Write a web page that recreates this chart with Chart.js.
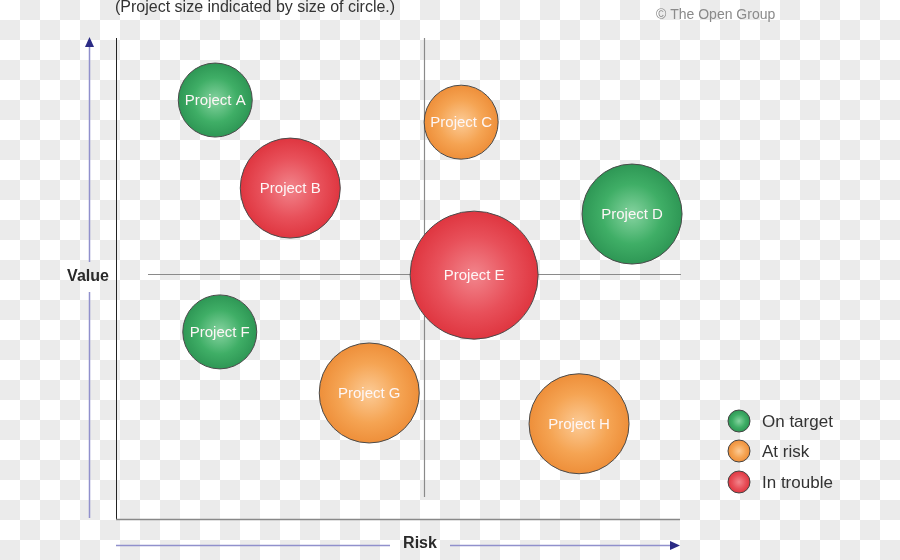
<!DOCTYPE html>
<html><head><meta charset="utf-8">
<script src="https://cdn.jsdelivr.net/npm/chart.js@4/dist/chart.umd.min.js"></script>
<style>
html,body{margin:0;padding:0;}
body{width:900px;height:560px;background-color:#fff;
background-image:conic-gradient(#ebebeb 0 25%,#fff 0 50%,#ebebeb 0 75%,#fff 0);background-size:40px 40px;}
#wrap{position:relative;width:900px;height:560px;}
</style></head>
<body><div id="wrap"><canvas id="c" width="900" height="560"></canvas></div>
<script>
const projects = ["Project A","Project B","Project C","Project D","Project E","Project F","Project G","Project H"];
const riskValues = [1.76, 3.09, 6.12, 9.15, 6.35, 1.84, 4.49, 8.21];
const valueValues = [8.71, 6.88, 8.25, 6.34, 5.07, 3.89, 2.62, 1.98];
const sizes = [37, 50, 37, 50, 64, 37, 50, 50];
const statuses = ["On target","In trouble","At risk","On target","In trouble","On target","At risk","At risk"];
const statusNames = ["On target","At risk","In trouble"];
const quadrantRisk = 5.46;
const quadrantValue = 5.09;

const palette = {
  "On target": {c0:"#86d3a0", c1:"#3fae66", c2:"#2e9755"},
  "At risk":   {c0:"#fccb96", c1:"#f5a453", c2:"#ee8f3a"},
  "In trouble":{c0:"#f2858c", c1:"#e8505a", c2:"#df3640"}
};
function grad(ctx2d, x, y, r, name){
  const p = palette[name];
  const g = ctx2d.createRadialGradient(x, y, 0, x, y, r);
  g.addColorStop(0, p.c0); g.addColorStop(0.6, p.c1); g.addColorStop(1, p.c2);
  return g;
}

const datasets = statusNames.map(s => ({
  label: s,
  data: projects.map((p,i)=>({x:riskValues[i], y:valueValues[i], r:sizes[i], name:p, status:statuses[i]})).filter(d=>d.status===s),
  borderColor: "#4a4a4a",
  borderWidth: 1,
  clip: false,
  backgroundColor: function(ctx){
    const chart = ctx.chart;
    const sx = chart.scales.x, sy = chart.scales.y;
    if(!sx || !sy || !ctx.raw) return palette[s].c1;
    const px = sx.getPixelForValue(ctx.raw.x), py = sy.getPixelForValue(ctx.raw.y);
    if(!isFinite(px) || !isFinite(py)) return palette[s].c1;
    return grad(chart.ctx, px, py, ctx.raw.r, s);
  }
}));

const decor = {
  id: "decor",
  beforeDatasetsDraw(chart){
    const c = chart.ctx, a = chart.chartArea, sx = chart.scales.x, sy = chart.scales.y;
    c.save();
    c.strokeStyle = "#8a8a8a"; c.lineWidth = 1.2;
    const qx = Math.round(sx.getPixelForValue(quadrantRisk))+0.5;
    const qy = Math.round(sy.getPixelForValue(quadrantValue))+0.5;
    c.beginPath(); c.moveTo(qx, a.top); c.lineTo(qx, a.bottom-22); c.stroke();
    c.beginPath(); c.moveTo(a.left+32, qy); c.lineTo(a.right+1, qy); c.stroke();
    c.strokeStyle = "#222"; c.lineWidth = 1;
    c.beginPath(); c.moveTo(a.left+0.5, a.top); c.lineTo(a.left+0.5, a.bottom); c.stroke();
    c.strokeStyle = "#888"; c.lineWidth = 1.5;
    c.beginPath(); c.moveTo(a.left, a.bottom+0.5); c.lineTo(a.right, a.bottom+0.5); c.stroke();
    c.restore();
  },
  afterDatasetsDraw(chart){
    const c = chart.ctx, a = chart.chartArea;
    c.save();
    c.fillStyle = "#fdf6f6"; c.font = "15px 'Liberation Sans', Arial, sans-serif";
    c.textAlign = "center"; c.textBaseline = "middle";
    chart.data.datasets.forEach((ds, di) => {
      const meta = chart.getDatasetMeta(di);
      meta.data.forEach((el, j) => { c.fillText(ds.data[j].name, el.x, el.y + 1); });
    });
    const arrowLine = "#9090cc", arrowHead = "#2b2b85";
    c.strokeStyle = arrowLine; c.lineWidth = 1.5;
    const ax = 89.5;
    c.beginPath(); c.moveTo(ax, a.bottom-1); c.lineTo(ax, 292); c.moveTo(ax, 262); c.lineTo(ax, a.top+6); c.stroke();
    c.fillStyle = arrowHead;
    c.beginPath(); c.moveTo(ax, a.top-1); c.lineTo(ax-4.5, a.top+9); c.lineTo(ax+4.5, a.top+9); c.closePath(); c.fill();
    const ay = 545.5;
    c.beginPath(); c.moveTo(a.left, ay); c.lineTo(390, ay); c.moveTo(450, ay); c.lineTo(a.right-6, ay); c.stroke();
    c.beginPath(); c.moveTo(a.right, ay); c.lineTo(a.right-10, ay-4.5); c.lineTo(a.right-10, ay+4.5); c.closePath(); c.fill();
    c.fillStyle = "#2a2a2a"; c.font = "bold 16px 'Liberation Sans', Arial, sans-serif";
    c.textAlign = "center"; c.textBaseline = "middle";
    c.fillText("Value", 88, 277);
    c.fillText("Risk", 420, 544);
    c.font = "16px 'Liberation Sans', Arial, sans-serif"; c.textAlign = "left"; c.fillStyle = "#333";
    c.fillText("(Project size indicated by size of circle.)", 115, 7.5);
    c.font = "14px 'Liberation Sans', Arial, sans-serif"; c.fillStyle = "#8a8a8a";
    c.fillText("\u00A9 The Open Group", 656, 15.5);
    const ly = [421, 451, 482];
    statusNames.forEach((s, i) => {
      const cx = 739, cy = ly[i], r = 11;
      c.beginPath(); c.arc(cx, cy, r, 0, Math.PI*2);
      c.fillStyle = grad(c, cx, cy, r, s); c.fill();
      c.strokeStyle = "#444"; c.lineWidth = 1; c.stroke();
      c.fillStyle = "#333"; c.font = "17px 'Liberation Sans', Arial, sans-serif";
      c.textAlign = "left"; c.fillText(s, 762, cy+1);
    });
    c.restore();
  }
};

new Chart(document.getElementById("c"), {
  type: "bubble",
  data: { datasets },
  options: {
    responsive: false,
    animation: false,
    events: [],
    layout: { autoPadding: false, padding: { left: 116, right: 220, top: 38, bottom: 41 } },
    plugins: { legend: { display: false }, tooltip: { enabled: false } },
    scales: {
      x: { type: "linear", min: 0, max: 10, display: false },
      y: { type: "linear", min: 0, max: 10, display: false }
    }
  },
  plugins: [decor]
});
</script>
</body></html>
